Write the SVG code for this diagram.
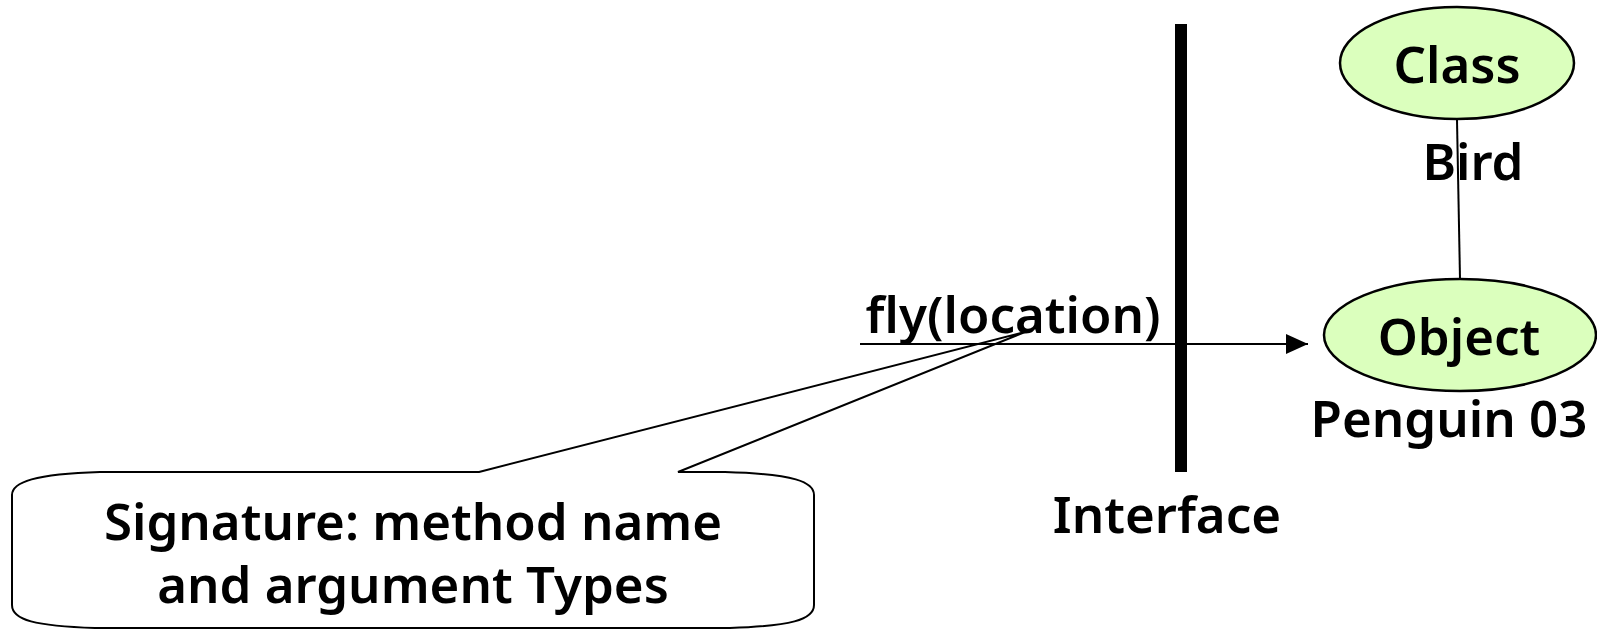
<svg xmlns="http://www.w3.org/2000/svg" width="1597" height="630" viewBox="0 0 1597 630">
  <style>
    .lbl { font-family: "Noto Sans", "Open Sans", "DejaVu Sans", sans-serif; font-weight: 600; font-size: 51px; fill: #000; text-anchor: middle; }
    .node { fill: #dbffbd; stroke: #000; stroke-width: 2.5; }
    .thin { stroke: #000; stroke-width: 2; fill: none; }
  </style>
  <defs>
    <marker id="arrowhead" viewBox="0 0 22 20" refX="22" refY="10" markerWidth="22" markerHeight="20" markerUnits="userSpaceOnUse" orient="auto">
      <path d="M0,0 L22,10 L0,20 Z" fill="#000"/>
    </marker>
  </defs>
  <rect width="1597" height="630" fill="#fff"/>

  <g id="connectors">
    <!-- class to object link -->
    <line class="thin" x1="1457" y1="120" x2="1460" y2="279"/>
    <!-- message arrow -->
    <line class="thin" x1="860" y1="344" x2="1308" y2="344" marker-end="url(#arrowhead)"/>
  </g>

  <g id="interface">
    <rect x="1175" y="24" width="12" height="448" fill="#000"/>
    <text class="lbl" x="1167" y="533">Interface</text>
  </g>

  <g id="message-label">
    <text class="lbl" x="1013" y="333">fly(location)</text>
  </g>

  <g id="class-node">
    <ellipse class="node" cx="1457" cy="63" rx="117" ry="56"/>
    <text class="lbl" x="1457" y="83">Class</text>
  </g>

  <g id="class-name">
    <text class="lbl" x="1473" y="180">Bird</text>
  </g>

  <g id="object-node">
    <ellipse class="node" cx="1460" cy="335" rx="136" ry="56"/>
    <text class="lbl" x="1459" y="355">Object</text>
    <text class="lbl" x="1449" y="437">Penguin 03</text>
  </g>

  <g id="signature-callout">
    <path class="thin" fill="#fff" d="M479,472 L1025,332 L678,472 L725,472 C795,474 814,482 814,495 L814,605 C814,620 790,626 730,628 L95,628 C35,626 12,620 12,605 L12,495 C12,482 35,474 100,472 Z"/>
    <text class="lbl" x="413" y="540">Signature: method name</text>
    <text class="lbl" x="413" y="603">and argument Types</text>
  </g>
</svg>
